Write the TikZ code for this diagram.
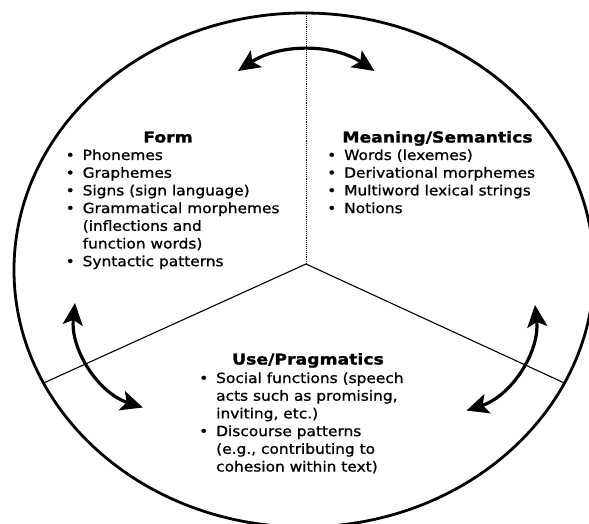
\documentclass[tikz,border=0pt]{standalone}
\usepackage{fontspec}
\setmainfont{DejaVu Sans}
\newfontfamily\bodyfont[FakeStretch=1.1,FakeBold=1.0]{DejaVu Sans}
\newfontfamily\headfont[FakeStretch=1.15,FakeBold=1.4]{DejaVu Sans}
\usetikzlibrary{arrows.meta}
\newcommand{\bul}{\makebox[17pt][l]{\textbullet}}
\begin{document}
\begin{tikzpicture}[x=1pt,y=1pt,
  rim/.style={line width=2.8pt},
  divider/.style={line width=1.1pt},
  vdivider/.style={line width=0.9pt, densely dotted},
  bigtip/.tip={Stealth[length=22pt,width=20pt,inset=5pt]},
  cyc/.style={line width=3.2pt, bigtip-bigtip},
  head/.style={inner sep=0pt, anchor=base, font=\headfont\bfseries\fontsize{15}{18}\selectfont},
  blist/.style={inner sep=0pt, anchor=base west, font=\bodyfont\fontsize{14}{17.7}\selectfont}]
\useasboundingbox (0,0) rectangle (589,523);
\clip (0,0) rectangle (589,523);
\fill[white] (0,0) rectangle (589,523);
% circle and dividers
\coordinate (C) at (304,253);
\coordinate (J) at (306,259);
\coordinate (T) at (306,510);
\coordinate (L) at (43.6,140);
\coordinate (R) at (564.4,140);
\draw[rim] (C) ellipse [x radius=290, y radius=257];
\draw[vdivider] (J) -- (T);
\draw[divider] (J) -- (L);
\draw[divider] (J) -- (R);
% cycle arrows
\coordinate (a1) at (238,452);
\coordinate (b1) at (75,220);
\coordinate (c1) at (535,218);
\draw[cyc] (a1) arc[start angle=123.7, end angle=56.3, radius=123];
\draw[cyc] (b1) arc[start angle=174, end angle=252, radius=99];
\draw[cyc] (c1) arc[start angle=6, end angle=-72, radius=100];
% texts
\node[head] (formhead) at (168,380.5) {Form};
\node[blist] (formlist) at (65.5,363) {\begin{tabular}[t]{@{}l@{}l@{}}
\bul & Phonemes\\
\bul & Graphemes\\
\bul & Signs (sign language)\\
\bul & Grammatical morphemes\\
 & (inflections and\\
 & function words)\\
\bul & Syntactic patterns
\end{tabular}};
\node[head] (meanhead) at (437.5,380.5) {Meaning/Semantics};
\node[blist] (meanlist) at (327,363) {\begin{tabular}[t]{@{}l@{}l@{}}
\bul & Words (lexemes)\\
\bul & Derivational morphemes\\
\bul & Multiword lexical strings\\
\bul & Notions
\end{tabular}};
\node[head] (usehead) at (308,158.5) {Use/Pragmatics};
\node[blist] (uselist) at (199,140) {\begin{tabular}[t]{@{}l@{}l@{}}
\bul & Social functions (speech\\
 & acts such as promising,\\
 & inviting, etc.)\\
\bul & Discourse patterns\\
 & (e.g., contributing to\\
 & cohesion within text)
\end{tabular}};
\end{tikzpicture}
\end{document}
